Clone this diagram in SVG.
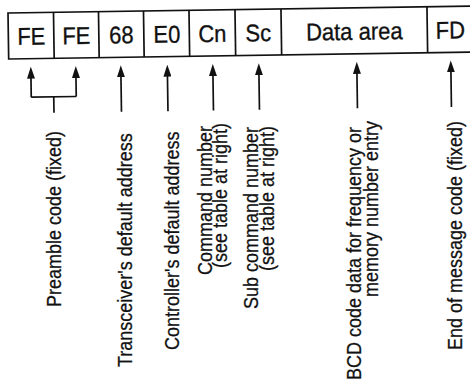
<svg xmlns="http://www.w3.org/2000/svg" width="470" height="383" viewBox="0 0 470 383">
<style>
.box{fill:none;stroke:#111;stroke-width:1.7}
.cell{font-family:"Liberation Sans",Arial,sans-serif;font-size:22px;fill:#111;stroke:#111;stroke-width:0.3;text-anchor:middle}
.lbl{font-family:"Liberation Sans",Arial,sans-serif;font-size:18px;fill:#111;stroke:#111;stroke-width:0.25}
.conn{fill:none;stroke:#111;stroke-width:1.7}
</style>
<defs>
<marker id="ah" viewBox="0 0 12 8" refX="2" refY="4" markerWidth="12" markerHeight="8" markerUnits="userSpaceOnUse" orient="auto">
<path d="M0,0 L12,4 L0,8 z" fill="#111"/>
</marker>
</defs>
<rect width="470" height="383" fill="#fff"/>
<g transform="rotate(-0.85 8 13)">
<g id="frame">
<rect class="box" x="8" y="13" width="464" height="46"/>
</g>
<g id="n-fe1"><line class="box" x1="53.5" y1="13" x2="53.5" y2="59"/><text class="cell" transform="translate(31 45) scale(1 1.1)">FE</text></g>
<g id="n-fe2"><line class="box" x1="98.5" y1="13" x2="98.5" y2="59"/><text class="cell" transform="translate(76 45) scale(1 1.1)">FE</text></g>
<g id="n-68"><line class="box" x1="143.5" y1="13" x2="143.5" y2="59"/><text class="cell" transform="translate(121 45) scale(1 1.1)">68</text></g>
<g id="n-e0"><line class="box" x1="189" y1="13" x2="189" y2="59"/><text class="cell" transform="translate(166.5 45) scale(1 1.1)">E0</text></g>
<g id="n-cn"><line class="box" x1="235" y1="13" x2="235" y2="59"/><text class="cell" transform="translate(212 45) scale(1 1.1)">Cn</text></g>
<g id="n-sc"><line class="box" x1="281" y1="13" x2="281" y2="59"/><text class="cell" transform="translate(258 45) scale(1 1.1)">Sc</text></g>
<g id="n-data"><line class="box" x1="427" y1="13" x2="427" y2="59"/><text class="cell" transform="translate(354 45) scale(1 1.1)">Data area</text></g>
<g id="n-fd"><text class="cell" transform="translate(450 45) scale(1 1.1)">FD</text></g>
<g id="connectors">
<line class="conn" x1="30" y1="97.5" x2="30" y2="77" marker-end="url(#ah)"/>
<line class="conn" x1="75" y1="97.5" x2="75" y2="77" marker-end="url(#ah)"/>
<polyline class="conn" points="30,97.5 75,97.5"/>
<line class="conn" x1="52.5" y1="97.5" x2="52.5" y2="113.5"/>
<line class="conn" x1="120" y1="113.5" x2="120" y2="77" marker-end="url(#ah)"/>
<line class="conn" x1="166.5" y1="113.5" x2="166.5" y2="77" marker-end="url(#ah)"/>
<line class="conn" x1="212" y1="113.5" x2="212" y2="77" marker-end="url(#ah)"/>
<line class="conn" x1="258" y1="113.5" x2="258" y2="77" marker-end="url(#ah)"/>
<line class="conn" x1="356" y1="113.5" x2="356" y2="77" marker-end="url(#ah)"/>
<line class="conn" x1="450" y1="113.5" x2="450" y2="77" marker-end="url(#ah)"/>
</g>
</g>
<g id="labels">
<text class="lbl" transform="translate(61 307) rotate(-90) scale(1 1.1)">Preamble code (fixed)</text>
<text class="lbl" transform="translate(132 367) rotate(-90) scale(1 1.1)">Transceiver's default address</text>
<text class="lbl" transform="translate(179 350) rotate(-90) scale(1 1.1)">Controller's default address</text>
<text class="lbl" transform="translate(212 275) rotate(-90) scale(1 1.1)">Command number</text>
<text class="lbl" transform="translate(227 268) rotate(-90) scale(1 1.1)">(see table at right)</text>
<text class="lbl" transform="translate(258 309) rotate(-90) scale(1 1.1)">Sub command number</text>
<text class="lbl" transform="translate(274 271) rotate(-90) scale(1 1.1)">(see table at right)</text>
<text class="lbl" transform="translate(361 380) rotate(-90) scale(1 1.1)">BCD code data for frequency or</text>
<text class="lbl" transform="translate(378 297) rotate(-90) scale(1 1.1)">memory number entry</text>
<text class="lbl" transform="translate(462 350) rotate(-90) scale(1 1.1)">End of message code (fixed)</text>
</g>
</svg>
